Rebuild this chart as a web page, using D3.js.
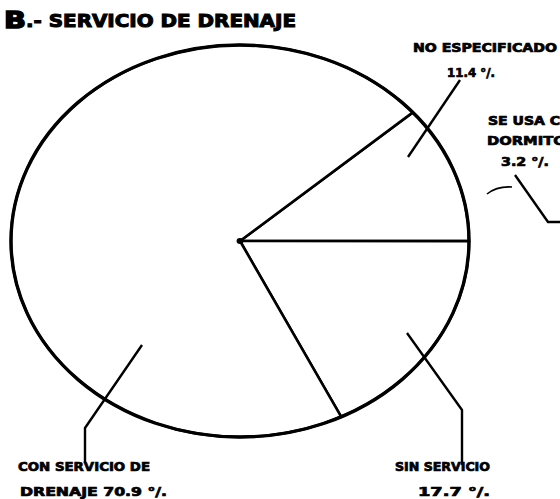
<!DOCTYPE html>
<html>
<head>
<meta charset="utf-8">
<script src="https://cdn.jsdelivr.net/npm/d3@7"></script>
<style>
  body { margin: 0; background: #fff; }
  text { font-family: "DejaVu Sans", sans-serif; font-weight: bold; fill: #000; stroke: #000; stroke-width: 0.7px; }
</style>
</head>
<body>
<script>
// pie slices (percent), in drawing order clockwise
var categories = ["NO ESPECIFICADO", "SIN SERVICIO", "CON SERVICIO DE DRENAJE"];
var values = [11.4, 17.7, 70.9];
// separate annotation that points off the page
var extraLabel = ["SE USA COMO", "DORMITORIO", "3.2 °/."];

var w = 560, h = 499;
var cx = 240, cy = 241;
var rx = 229, ry = 196;
var r = 100;

var svg = d3.select("body").append("svg")
  .attr("width", w)
  .attr("height", h);

// title
var title = svg.append("g");
title.append("text").attr("x", 4).attr("y", 28)
  .style("font-size", "23px").style("font-weight", 900).style("stroke-width", "1.5px")
  .attr("textLength", 22).attr("lengthAdjust", "spacingAndGlyphs")
  .text("B");
title.append("text").attr("x", 26).attr("y", 27)
  .style("font-size", "17px").style("stroke-width", "1px")
  .attr("textLength", 270).attr("lengthAdjust", "spacingAndGlyphs")
  .text(".- SERVICIO DE  DRENAJE");

var start = 49 * Math.PI / 180;
var pie = d3.pie().sort(null).startAngle(start).endAngle(start + 2 * Math.PI);
var arc = d3.arc().innerRadius(0).outerRadius(r);
var arcs = pie(values);

// pie, drawn on a unit radius then stretched into the hand-drawn ellipse
var g = svg.append("g")
  .attr("transform", "translate(" + cx + "," + cy + ") scale(" + rx / r + "," + ry / r + ")");

g.selectAll("path.slice")
  .data(arcs)
  .enter()
  .append("path")
  .attr("class", "slice")
  .attr("d", arc)
  .attr("fill", "#fff")
  .attr("stroke", "#000")
  .attr("stroke-width", 2.6)
  .attr("stroke-linejoin", "round")
  .attr("vector-effect", "non-scaling-stroke");

g.append("ellipse")
  .attr("rx", r).attr("ry", r)
  .attr("fill", "none")
  .attr("stroke", "#000")
  .attr("stroke-width", 3.4)
  .attr("vector-effect", "non-scaling-stroke");

g.append("circle").attr("r", 1.5).attr("fill", "#000");

// leader lines
var leaders = [
  [[460, 80], [408, 157]],
  [[407, 333], [462, 410], [462, 465]],
  [[142, 345], [85, 428], [85, 462]],
  [[515, 175], [548, 222], [560, 222]]
];
var line = d3.line();
svg.selectAll("path.leader")
  .data(leaders)
  .enter()
  .append("path")
  .attr("class", "leader")
  .attr("d", line)
  .attr("fill", "none")
  .attr("stroke", "#000")
  .attr("stroke-width", 2.4)
  .attr("stroke-linejoin", "round");

// small curved tick near the 3.2 label
svg.append("path")
  .attr("d", "M487,194 Q497,186 512,187")
  .attr("fill", "none")
  .attr("stroke", "#000")
  .attr("stroke-width", 1.6);

// labels
var labels = [
  { t: categories[0], x: 413, y: 52, len: 144 },
  { t: values[0] + " °/.", x: 447, y: 77, len: 48 },
  { t: extraLabel[0], x: 488, y: 125, len: 110 },
  { t: extraLabel[1], x: 487, y: 145, len: 108 },
  { t: extraLabel[2], x: 501, y: 166, len: 48 },
  { t: "CON SERVICIO DE", x: 18, y: 471, len: 132 },
  { t: "DRENAJE " + values[2] + " °/.", x: 20, y: 496, len: 147 },
  { t: "SIN SERVICIO", x: 395, y: 471, len: 95 },
  { t: values[1] + " °/.", x: 418, y: 496, len: 72 }
];
svg.selectAll("text.lbl")
  .data(labels)
  .enter()
  .append("text")
  .attr("class", "lbl")
  .attr("x", function(d) { return d.x; })
  .attr("y", function(d) { return d.y; })
  .attr("textLength", function(d) { return d.len; })
  .attr("lengthAdjust", "spacingAndGlyphs")
  .style("font-size", "11.5px")
  .text(function(d) { return d.t; });
</script>
</body>
</html>
